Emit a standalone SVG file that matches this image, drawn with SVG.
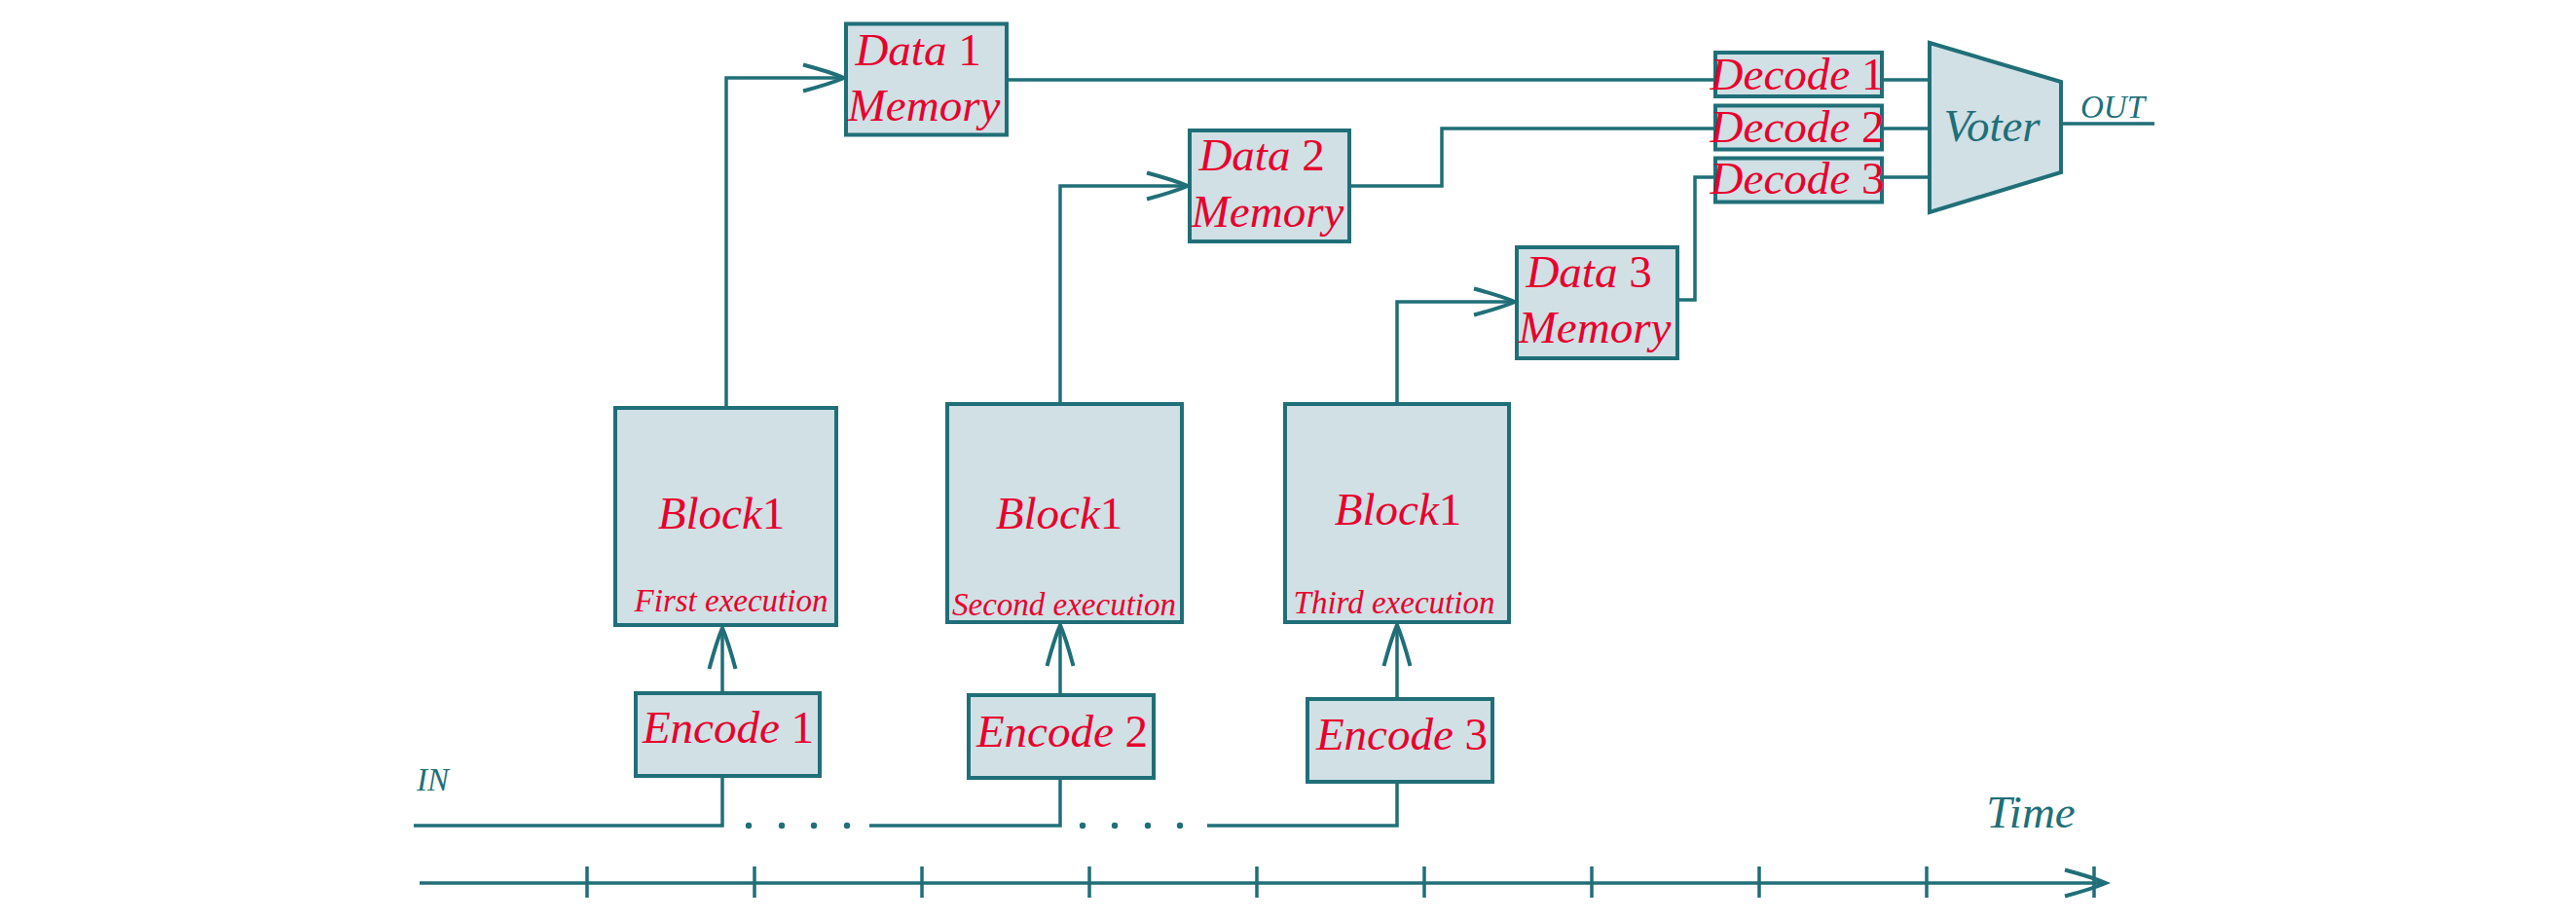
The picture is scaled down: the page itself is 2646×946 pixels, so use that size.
<svg xmlns="http://www.w3.org/2000/svg" width="2646" height="946" viewBox="0 0 2646 946">
<style>
.box{fill:#d0e0e5;stroke:#206f78;stroke-width:4}
.ln{fill:none;stroke:#206f78;stroke-width:3.5}
.t{font-family:"Liberation Serif",serif;font-style:italic;fill:#e8002d}
.big{font-size:47px}
.sm{font-size:33px}
.tl{font-family:"Liberation Serif",serif;font-style:italic;fill:#206f78}
.n{font-style:normal}
.dot{fill:#206f78}
</style>
<defs>
<marker id="arr" markerUnits="userSpaceOnUse" markerWidth="50" markerHeight="32" refX="44" refY="16" orient="auto" overflow="visible">
<path d="M2,2.5 Q30,10 44,16 Q30,22 2,29.5" fill="none" stroke="#206f78" stroke-width="4"/>
</marker>
</defs>
<rect width="2646" height="946" fill="#ffffff"/>
<g id="connectors">
<path class="ln" d="M746,417 V80 H867" marker-end="url(#arr)"/>
<path class="ln" d="M1089,413 V191 H1220" marker-end="url(#arr)"/>
<path class="ln" d="M1435,413 V310 H1556" marker-end="url(#arr)"/>
<path class="ln" d="M1036,82 H1760"/>
<path class="ln" d="M1388,191 H1481 V132 H1760"/>
<path class="ln" d="M1725,308 H1741 V182 H1760"/>
<path class="ln" d="M1935,82 H1981 M1935,132 H1981 M1935,182 H1981"/>
<path class="ln" d="M2118,127 H2213"/>
<path class="ln" d="M742,710 V645" marker-end="url(#arr)"/>
<path class="ln" d="M1089,712 V642" marker-end="url(#arr)"/>
<path class="ln" d="M1435,716 V642" marker-end="url(#arr)"/>
<path class="ln" d="M425,848 H742 V799"/>
<path class="ln" d="M893,848 H1089 V801"/>
<path class="ln" d="M1240,848 H1435 V805"/>
<g class="dot">
<circle cx="769" cy="848" r="3.2"/><circle cx="803" cy="848" r="3.2"/><circle cx="836" cy="848" r="3.2"/><circle cx="870" cy="848" r="3.2"/>
<circle cx="1112" cy="848" r="3.2"/><circle cx="1145" cy="848" r="3.2"/><circle cx="1179" cy="848" r="3.2"/><circle cx="1212" cy="848" r="3.2"/>
</g>
<path class="ln" d="M431,907 H2163" marker-end="url(#arr)"/>
<path class="ln" d="M603,890 V922 M775,890 V922 M947,890 V922 M1119,890 V922 M1291,890 V922 M1463,890 V922 M1635,890 V922 M1807,890 V922 M1979,890 V922 M2151,890 V922"/>
</g>
<g id="data1">
<rect class="box" x="869" y="24.5" width="165" height="114"/>
<text class="t big" x="943" y="67" text-anchor="middle">Data <tspan class="n">1</tspan></text>
<text class="t big" x="949" y="124" text-anchor="middle">Memory</text>
</g>
<g id="data2">
<rect class="box" x="1222" y="134" width="164" height="114"/>
<text class="t big" x="1296" y="175" text-anchor="middle">Data <tspan class="n">2</tspan></text>
<text class="t big" x="1302" y="233" text-anchor="middle">Memory</text>
</g>
<g id="data3">
<rect class="box" x="1558" y="254" width="165" height="114"/>
<text class="t big" x="1632" y="295" text-anchor="middle">Data <tspan class="n">3</tspan></text>
<text class="t big" x="1638" y="352" text-anchor="middle">Memory</text>
</g>
<g id="decode1">
<rect class="box" x="1762" y="54" width="171" height="45"/>
<text class="t big" x="1846" y="92" text-anchor="middle">Decode <tspan class="n">1</tspan></text>
</g>
<g id="decode2">
<rect class="box" x="1762" y="108.5" width="171" height="45"/>
<text class="t big" x="1846" y="146" text-anchor="middle">Decode <tspan class="n">2</tspan></text>
</g>
<g id="decode3">
<rect class="box" x="1762" y="162.5" width="171" height="45"/>
<text class="t big" x="1846" y="199" text-anchor="middle">Decode <tspan class="n">3</tspan></text>
</g>
<g id="voter">
<polygon class="box" points="1982,44 2117,84 2117,177 1982,218"/>
<text class="tl big" x="2046" y="145" text-anchor="middle">Voter</text>
</g>
<g id="out">
<text class="tl sm" x="2170" y="121" text-anchor="middle">OUT</text>
</g>
<g id="block1">
<rect class="box" x="632" y="419" width="227" height="223"/>
<text class="t big" x="741" y="543" text-anchor="middle">Block<tspan class="n">1</tspan></text>
<text class="t sm" x="751" y="628" text-anchor="middle">First execution</text>
</g>
<g id="block2">
<rect class="box" x="973" y="415" width="241" height="224"/>
<text class="t big" x="1088" y="543" text-anchor="middle">Block<tspan class="n">1</tspan></text>
<text class="t sm" x="1093" y="632" text-anchor="middle">Second execution</text>
</g>
<g id="block3">
<rect class="box" x="1320" y="415" width="230" height="224"/>
<text class="t big" x="1436" y="539" text-anchor="middle">Block<tspan class="n">1</tspan></text>
<text class="t sm" x="1432" y="630" text-anchor="middle">Third execution</text>
</g>
<g id="encode1">
<rect class="box" x="653" y="712" width="189" height="85"/>
<text class="t big" x="748" y="763" text-anchor="middle">Encode <tspan class="n">1</tspan></text>
</g>
<g id="encode2">
<rect class="box" x="995" y="714" width="190" height="85"/>
<text class="t big" x="1091" y="767" text-anchor="middle">Encode <tspan class="n">2</tspan></text>
</g>
<g id="encode3">
<rect class="box" x="1343" y="718" width="190" height="85"/>
<text class="t big" x="1440" y="770" text-anchor="middle">Encode <tspan class="n">3</tspan></text>
</g>
<g id="in">
<text class="tl sm" x="428" y="812">IN</text>
</g>
<g id="time">
<text class="tl big" x="2086" y="850" text-anchor="middle">Time</text>
</g>
</svg>
